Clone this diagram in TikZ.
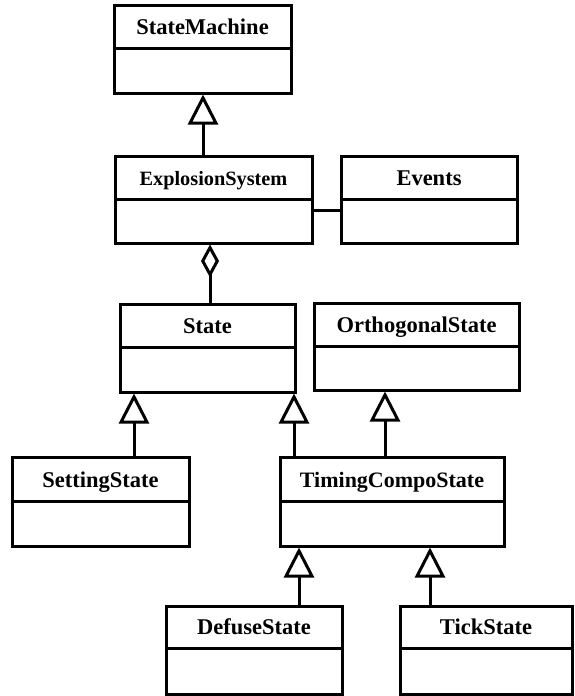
\documentclass[tikz,border=0pt]{standalone}
\usepackage{fontspec}
\setmainfont{Liberation Serif}
\usetikzlibrary{arrows.meta}

% class box: outer rectangle, compartment divider and bold title
\newcommand\umlclass[8]{% name, x1, y1, x2, y2, divider y, title, font size
  \node[classbox, minimum width={(#4-#2)*1pt}, minimum height={(#5-#3)*1pt}]
    (#1) at ({(#2+#4)/2},{(#3+#5)/2}) {};
  \coordinate (#1-d) at (0,#6);
  \draw[divider] (#1.west |- #1-d) -- (#1.east |- #1-d);
  \node[classtitle, font=\bfseries\fontsize{#8}{#8}\selectfont]
    (#1-t) at ({(#2+#4)/2},{#6-14}) {#7};
}

\begin{document}
\begin{tikzpicture}[x=1pt,y=-1pt,
  classbox/.style={draw, line width=3pt, rectangle, inner sep=0pt},
  divider/.style={line width=3pt, shorten <=1.5pt, shorten >=1.5pt},
  classtitle/.style={anchor=base, inner sep=0pt},
  inherit/.style={line width=3pt, -{Triangle[open, length=30pt, width=30pt]}},
  assoc/.style={line width=3pt},
  aggr/.style={line width=3pt, {Diamond[open, length=33pt, width=18pt]}-},
]
\fill[white] (0,0) rectangle (574,696);
\useasboundingbox (0,0) rectangle (574,696);

\umlclass{sm}{114}{5}{291}{93}{48}{StateMachine}{22.5}
\umlclass{es}{115}{156}{312}{243}{199}{ExplosionSystem}{20.3}
\umlclass{ev}{341}{156}{517}{243}{199}{Events}{22.5}
\umlclass{st}{120}{304}{295}{392}{347}{State}{22.5}
\umlclass{os}{314}{303}{519}{390}{346}{OrthogonalState}{22.5}
\umlclass{ss}{12}{457}{189}{546}{501}{SettingState}{22.5}
\umlclass{tc}{280}{457}{504}{546}{501}{TimingCompoState}{22}
\umlclass{ds}{166}{606}{342}{694}{648}{DefuseState}{22.5}
\umlclass{ts}{400}{606}{572}{694}{648}{TickState}{22.5}

% connector positions
\coordinate (xsm) at (203,0);
\coordinate (xag) at (210,0);
\coordinate (xss) at (134,0);
\coordinate (xst) at (294,0);
\coordinate (xos) at (385,0);
\coordinate (xds) at (299,0);
\coordinate (xts) at (430,0);
\coordinate (yev) at (0,210);

\draw[inherit] (es.north -| xsm) -- (sm.south -| xsm);
\draw[assoc] (es.east |- yev) -- (ev.west |- yev);
\draw[aggr] (es.south -| xag) -- (st.north -| xag);
\draw[inherit] (ss.north -| xss) -- (st.south -| xss);
\draw[inherit] (tc.north -| xst) -- (st.south -| xst);
\draw[inherit] (tc.north -| xos) -- (os.south -| xos);
\draw[inherit] (ds.north -| xds) -- (tc.south -| xds);
\draw[inherit] (ts.north -| xts) -- (tc.south -| xts);
\end{tikzpicture}
\end{document}
